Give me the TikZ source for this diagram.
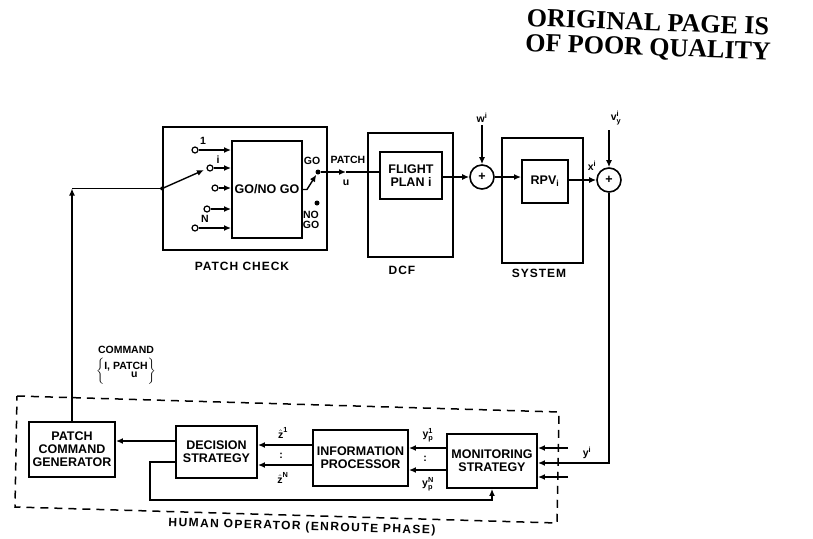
\documentclass[tikz,border=0pt]{standalone}
\usepackage{amsmath}
\usepackage{fontspec}
\setmainfont{Liberation Sans}
\newfontfamily\titlefont{Liberation Serif}
\usetikzlibrary{arrows.meta}

\begin{document}
\begin{tikzpicture}[x=1pt,y=-1pt,
	font=\bfseries\fontsize{12.5}{13}\selectfont,
	line width=1.4pt,
	arr/.style={-{Latex[length=7pt,width=6pt]}},
	blk/.style={draw,line width=1.9pt,align=center,inner sep=0pt},
	frame/.style={draw,line width=1.6pt,inner sep=0pt},
	summ/.style={draw,circle,line width=1.6pt,minimum size=24pt,inner sep=0pt},
	lbl/.style={font=\bfseries\fontsize{10.5}{10}\selectfont,inner sep=0pt,align=center},
	undertext/.style={font=\bfseries\fontsize{12}{13}\selectfont\addfontfeatures{LetterSpace=8},inner sep=0pt},
	contact/.style={draw,circle,line width=1.2pt,minimum size=6pt,inner sep=0pt,fill=white},
	jdot/.style={circle,fill,minimum size=5pt,inner sep=0pt},
	]
	%\draw[help lines] (0,0) grid[step=50] (813,538);
	\useasboundingbox (0,0) rectangle (813,538);
	\node[font=\titlefont\bfseries\fontsize{26}{28}\selectfont,rotate=-2,inner sep=0pt] (title1) at (648,22) {ORIGINAL PAGE IS};
	\node[font=\titlefont\bfseries\fontsize{26}{28}\selectfont,rotate=-2,inner sep=0pt] (title2) at (648,49) {OF POOR QUALITY};

	% patch check
	\node[frame,minimum width=164pt,minimum height=123pt] (pcheck) at (245,188.5) {};
	\node[blk,minimum width=70pt,minimum height=97pt] (gonogo) at (267,189.5) {GO/NO GO};
	\foreach \n/\x/\y in {1/195/150,2/210/168,3/215/188,4/207/209,5/195/228}{
		\node[contact] (in\n) at (\x,\y) {};
		\draw[arr] (in\n) -- (gonogo.west |- in\n);
	}
	\node[lbl] at (203,141) {1};
	\node[lbl] at (218,160) {i};
	\node[lbl] at (205,219) {N};
	\coordinate (pivot) at (pcheck.west);
	\coordinate (arm) at (204,170);
	\node[jdot,minimum size=4pt] at (pivot) {};
	\draw[arr] (pivot) -- (arm);
	\node[jdot] (go) at (318,172) {};
	\node[jdot] (nogo) at (317,203) {};
	\draw[arr] (gonogo.east) -- ++(4,0) -- (go);
	\node[lbl] at (312,161) {GO};
	\node[lbl] at (311,220) {NO\\GO};
	\node[undertext] at (242,266) {PATCH CHECK};

	% dcf and system
	\node[frame,minimum width=85pt,minimum height=124pt] (dcf) at (410.5,195) {};
	\node[blk,minimum width=62pt,minimum height=47pt] (fplan) at (411,175.5) {FLIGHT\\PLAN i};
	\node[undertext] at (402,270) {DCF};
	\coordinate (patchu) at (346,172);
	\draw[arr] (go) -- (patchu);
	\draw (patchu) -- (fplan.west |- patchu);
	\node[lbl] at (348,160) {PATCH};
	\node[lbl] at (346,183) {u};
	\node[summ] (sum1) at (482,177) {+};
	\draw[arr] (fplan.east |- sum1) -- (sum1);
	\coordinate (wtop) at (482,125);
	\draw[arr] (wtop) -- (sum1);
	\node[lbl,above=2pt] at (wtop) {w\textsuperscript{i}};
	\node[frame,minimum width=81pt,minimum height=125pt] (sys) at (542.5,200.5) {};
	\node[blk,minimum width=46pt,minimum height=43pt] (rpv) at (545,181.5) {RPV\textsubscript{i}};
	\node[undertext] at (539,273) {SYSTEM};
	\draw[arr] (sum1) -- (rpv.west |- sum1);
	\node[summ] (sum2) at (609,180) {+};
	\draw[arr] (rpv.east |- sum2) -- (sum2);
	\node[lbl] at (592,166) {x\textsuperscript{i}};
	\coordinate (vtop) at (609,130);
	\draw[arr] (vtop) -- (sum2);
	\node[lbl] at (616,118) {$\text{v}^{\text{i}}_{\text{y}}$};

	% human operator
	\node[blk,minimum width=86pt,minimum height=55pt] (pcg) at (72,449.5) {PATCH\\COMMAND\\GENERATOR};
	\node[blk,minimum width=81pt,minimum height=52pt] (dec) at (216.5,452) {DECISION\\STRATEGY};
	\node[blk,minimum width=95pt,minimum height=56pt] (info) at (360.5,458) {INFORMATION\\PROCESSOR};
	\node[blk,minimum width=90pt,minimum height=54pt] (mon) at (492,461) {MONITORING\\STRATEGY};
	\coordinate (cmdturn) at (pcg.north |- pivot);
	\draw[arr] (pcg.north) -- (cmdturn);
	\draw (cmdturn) -- (pivot);
	\node[lbl] (cmdtxt) at (126,350) {COMMAND};
	\node[lbl,below=3pt] (cmdset) at (cmdtxt.south) {$\biggl\{\begin{tabular}{@{}c@{}}I, PATCH\\[-2pt]\hspace*{1.6em}u\end{tabular}\biggr\}$};
	\coordinate (fbturn) at (sum2 |- 0,463);
	\draw[arr] (sum2) -- (fbturn) -- (mon.east |- fbturn);
	\node[lbl] at (587,453) {y\textsuperscript{i}};
	\foreach \y in {448,477}
		\draw[arr] (568,\y) -- (mon.east |- 0,\y);
	\foreach \y in {448,470}
		\draw[arr] (mon.west |- 0,\y) -- (info.east |- 0,\y);
	\foreach \y in {445,465}
		\draw[arr] (info.west |- 0,\y) -- (dec.east |- 0,\y);
	\draw[arr] (dec.west |- 0,441) -- (pcg.east |- 0,441);
	\draw[arr] (dec.west |- 0,462) -| (150,500) -| (mon.south);
	\node[lbl] at (283,433) {$\hat{\text{z}}^{\text{1}}$};
	\node[lbl] at (281,456) {:};
	\node[lbl] at (283,478) {$\hat{\text{z}}^{\text{N}}$};
	\node[lbl] at (428,435) {$\text{y}^{\text{1}}_{\text{p}}$};
	\node[lbl] at (425,459) {:};
	\node[lbl] at (428,484) {$\text{y}^{\text{N}}_{\text{p}}$};
	\draw[dash pattern=on 8pt off 6pt,line width=1.5pt] (17,396) -- (559,412) -- (557,523) -- (15,507) -- cycle;
	\node[undertext,rotate=-1.7,font=\bfseries\fontsize{12}{13}\selectfont\addfontfeatures{LetterSpace=12}] at (302,527) {HUMAN OPERATOR (ENROUTE PHASE)};
\end{tikzpicture}
\end{document}
